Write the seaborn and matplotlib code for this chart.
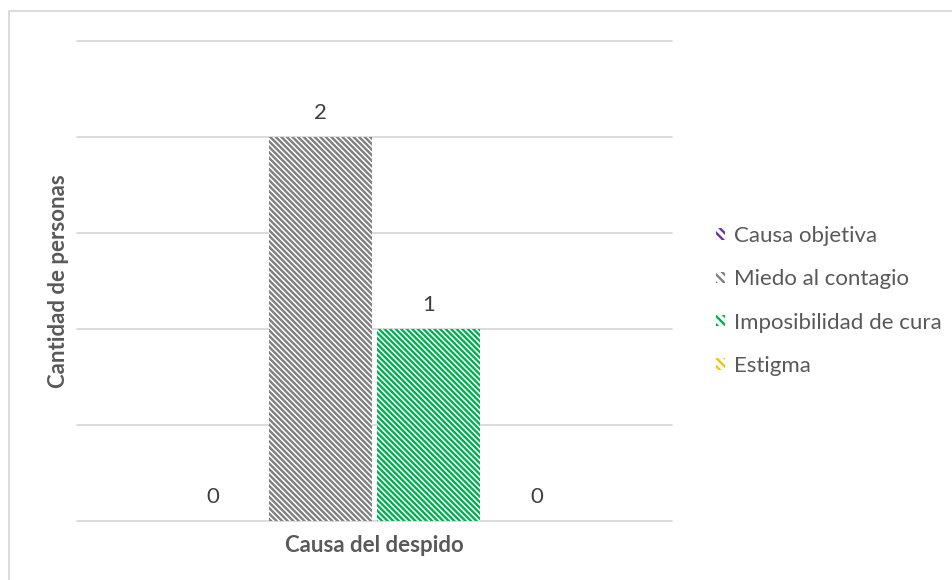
import matplotlib
matplotlib.use("Agg")
import matplotlib.pyplot as plt
import seaborn as sns
import pandas as pd
from matplotlib.patches import Patch
from matplotlib.lines import Line2D

# ---- data ----
categoria = ["Causa del despido"]
series = ["Causa objetiva", "Miedo al contagio", "Imposibilidad de cura", "Estigma"]
valores = [0, 2, 1, 0]
colores = ["#7030A0", "#7F7F7F", "#00B050", "#FFC000"]
y_ticks = [0, 0.5, 1, 1.5, 2, 2.5]

sns.set_theme(style="white")
plt.rcParams['font.family'] = ['Lato', 'DejaVu Sans']
plt.rcParams['hatch.linewidth'] = 1.7

df = pd.DataFrame({"cat": categoria * len(series), "serie": series, "valor": valores})

fig = plt.figure(figsize=(9.53, 5.8), dpi=100)
ax = fig.add_axes([77 / 953, 59 / 580, 595 / 953, 480 / 580])

sns.barplot(data=df, x="cat", y="valor", hue="serie", hue_order=series,
            palette=colores, width=0.8, gap=0.04, ax=ax, legend=False)

HATCH = "\\" * 6
for cont, c in zip(ax.containers, colores):
    for p in cont:
        p.set_facecolor("white")
        p.set_edgecolor(c)
        p.set_hatch(HATCH)
        p.set_linewidth(0)
    ax.bar_label(cont, labels=[f"{int(v.get_height())}" for v in cont],
                 padding=10, fontsize=16, color="#404040")

ax.set_ylim(0, 2.5)
ax.set_xlim(-0.551, 0.551)
ax.set_yticks(y_ticks)
ax.set_xticks([])
ax.tick_params(left=False, labelleft=False, bottom=False, labelbottom=False)
ax.yaxis.grid(True, color="#D9D9D9", lw=1.3)
ax.set_axisbelow(True)
for gl in ax.get_ygridlines():
    gl.set_clip_on(False)
sns.despine(ax=ax, left=True, bottom=True)

ax.set_ylabel("Cantidad de personas", fontsize=16, fontweight="bold", color="#595959", labelpad=6)
ax.set_xlabel("Causa del despido", fontsize=16, fontweight="bold", color="#595959", labelpad=10)

handles = [Patch(facecolor="white", edgecolor=c, hatch="\\" * 4, lw=0) for c in colores]
fig.legend(handles, series, loc="upper left", bbox_to_anchor=(696 / 953, 1 - 206 / 580),
           frameon=False, handlelength=0.4, handleheight=0.4, handletextpad=0.4,
           labelspacing=1.05, fontsize=16, labelcolor="#595959")

fig.add_artist(Line2D([9 / 953, 1], [1 - 11 / 580] * 2, color="#D9D9D9", lw=1.3))
fig.add_artist(Line2D([9 / 953] * 2, [0, 1 - 11 / 580], color="#D9D9D9", lw=1.3))

fig.savefig("out.png", dpi=100, facecolor="white")
